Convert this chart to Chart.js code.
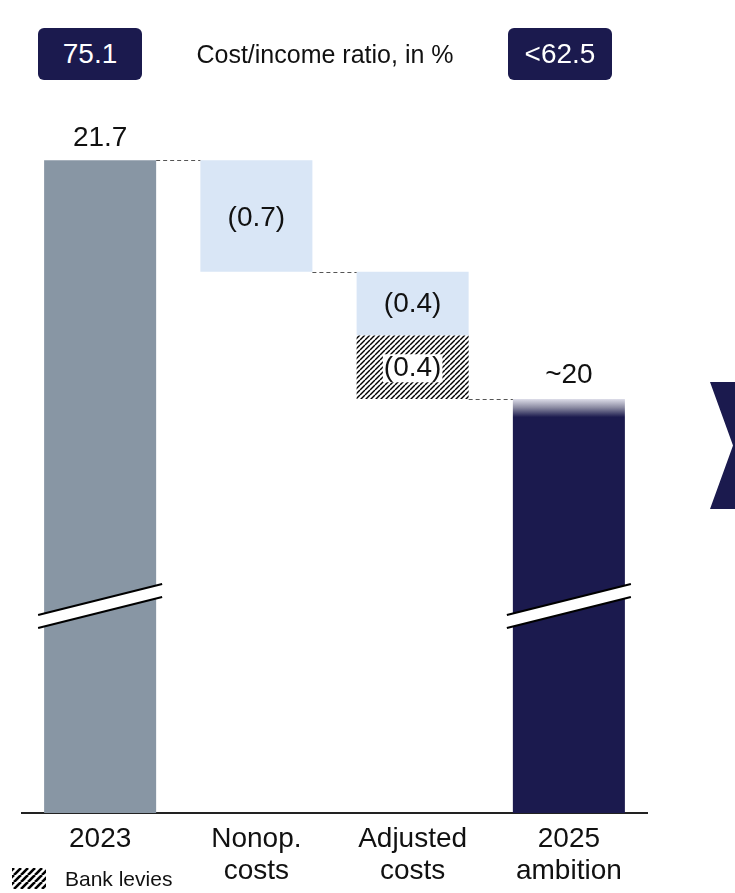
<!DOCTYPE html>
<html>
<head>
<meta charset="utf-8">
<script src="https://cdn.jsdelivr.net/npm/chart.js@4/dist/chart.umd.min.js"></script>
<style>
  html, body { margin: 0; padding: 0; background: #ffffff; }
  #wrap { position: relative; width: 735px; height: 893px; overflow: hidden; font-family: "Liberation Sans", Arial, sans-serif; }
  canvas { position: absolute; left: 0; top: 0; }
  .cir { position: absolute; top: 28px; width: 104px; height: 52px; background: #1b1a4e; border-radius: 6px;
         color: #ffffff; font-size: 28px; line-height: 52px; text-align: center; }
  #cirTitle { position: absolute; top: 40px; left: 170px; width: 310px; text-align: center; font-size: 25px; color: #111; }
  #chevron { position: absolute; left: 710px; top: 382px; width: 26px; height: 127px; background: #1b1a4e;
             clip-path: polygon(0 0, 100% 0, 100% 100%, 0 100%, 23px 50%); }
</style>
</head>
<body>
<div id="wrap">
  <canvas id="chart" width="735" height="893"></canvas>
  <div class="cir" id="cirFrom" style="left:38px"></div>
  <div id="cirTitle">Cost/income ratio, in %</div>
  <div class="cir" id="cirTo" style="left:508px"></div>
  <div id="chevron"></div>
</div>
<script>
// Cost base walk, EUR bn
const categories = ['2023', ['Nonop.', 'costs'], ['Adjusted', 'costs'], ['2025', 'ambition']];
const costs2023 = 21.7;
const nonopCosts = -0.7;
const adjustedCosts = -0.4;
const bankLevies = -0.4;
const ambition2025 = 20.2;
const cirValues = ['75.1', '<62.5'];
const legendLabel = 'Bank levies';

// broken value axis
const axisFloor = 17.6;
const axisCeil = 22.5;
const breakAt = 18.9;

const NAVY = '#1b1a4e';
const GREY = '#8896a4';
const LIGHT = '#d9e6f6';
const FONT = '"Liberation Sans", Arial, sans-serif';

document.getElementById('cirFrom').textContent = cirValues[0];
document.getElementById('cirTo').textContent = cirValues[1];

const r1 = (v) => Math.round(v * 10) / 10;
const afterNonop = r1(costs2023 + nonopCosts);
const afterAdjusted = r1(afterNonop + adjustedCosts);
const afterLevies = r1(afterAdjusted + bankLevies);

const mainRanges = [
  [axisFloor, costs2023],
  [afterNonop, costs2023],
  [afterAdjusted, afterNonop],
  [axisFloor, ambition2025]
];
const levyRanges = [null, null, [afterLevies, afterAdjusted], null];
const stepLevels = [costs2023, afterNonop, afterLevies];

function hatch(size, width) {
  const c = document.createElement('canvas');
  c.width = size; c.height = size;
  const g = c.getContext('2d');
  g.fillStyle = '#ffffff';
  g.fillRect(0, 0, size, size);
  g.strokeStyle = '#000000';
  g.lineWidth = width;
  for (let k = -1; k <= 1; k++) {
    g.beginPath();
    g.moveTo(k * size, size);
    g.lineTo(k * size + size, 0);
    g.stroke();
  }
  return g.createPattern(c, 'repeat');
}
const barHatch = hatch(5, 1.4);
const legendHatch = hatch(7, 2.6);

function mainColor(ctx) {
  const i = ctx.dataIndex;
  if (i === 0) return GREY;
  if (i === 1 || i === 2) return LIGHT;
  const chart = ctx.chart;
  if (!chart.chartArea) return NAVY;
  const top = chart.scales.y.getPixelForValue(ambition2025);
  const g = chart.ctx.createLinearGradient(0, top - 6, 0, top + 18);
  g.addColorStop(0, '#f1f1f9');
  g.addColorStop(0.25, '#dcdce8');
  g.addColorStop(0.6, '#8b8ba2');
  g.addColorStop(1, NAVY);
  return g;
}

const fmtStep = (v) => '(' + Math.abs(v).toFixed(1) + ')';

const decorations = {
  id: 'decorations',
  afterDatasetsDraw(chart) {
    const { ctx } = chart;
    const y = chart.scales.y;
    const bars = chart.getDatasetMeta(0).data;
    const levy = chart.getDatasetMeta(1).data[2];

    // dashed connectors between steps
    ctx.save();
    ctx.strokeStyle = '#555555';
    ctx.lineWidth = 1;
    ctx.setLineDash([4, 3]);
    for (let i = 0; i < 3; i++) {
      const a = bars[i], b = bars[i + 1];
      const py = Math.round(y.getPixelForValue(stepLevels[i])) + 0.5;
      ctx.beginPath();
      ctx.moveTo(a.x + a.width / 2, py);
      ctx.lineTo(b.x - b.width / 2, py);
      ctx.stroke();
    }
    ctx.restore();

    // axis break marks on the full bars
    const yb = y.getPixelForValue(breakAt);
    [0, 3].forEach((i) => {
      const b = bars[i];
      const x0 = b.x - b.width / 2 - 6, x1 = b.x + b.width / 2 + 6;
      const rise = (x1 - x0) * 0.25;
      const gap = 13;
      const yl = yb + rise / 2, yr = yb - rise / 2;
      ctx.save();
      ctx.fillStyle = '#ffffff';
      ctx.beginPath();
      ctx.moveTo(x0, yl - gap / 2);
      ctx.lineTo(x1, yr - gap / 2);
      ctx.lineTo(x1, yr + gap / 2);
      ctx.lineTo(x0, yl + gap / 2);
      ctx.closePath();
      ctx.fill();
      ctx.strokeStyle = '#000000';
      ctx.lineWidth = 2;
      ctx.beginPath();
      ctx.moveTo(x0, yl - gap / 2); ctx.lineTo(x1, yr - gap / 2);
      ctx.moveTo(x0, yl + gap / 2); ctx.lineTo(x1, yr + gap / 2);
      ctx.stroke();
      ctx.restore();
    });

    // value labels
    ctx.save();
    ctx.font = '28px ' + FONT;
    ctx.fillStyle = '#111111';
    ctx.textAlign = 'center';
    ctx.textBaseline = 'middle';
    ctx.fillText(costs2023.toFixed(1), bars[0].x, bars[0].y - 22);
    ctx.fillText(fmtStep(nonopCosts), bars[1].x, (bars[1].y + bars[1].base) / 2 + 2);
    ctx.fillText(fmtStep(adjustedCosts), bars[2].x, (bars[2].y + bars[2].base) / 2 + 1);
    const ly = (levy.y + levy.base) / 2 + 1;
    const lt = fmtStep(bankLevies);
    const w = ctx.measureText(lt).width;
    ctx.fillStyle = '#ffffff';
    ctx.fillRect(levy.x - w / 2 - 1, ly - 14, w + 2, 28);
    ctx.fillStyle = '#111111';
    ctx.fillText(lt, levy.x, ly);
    ctx.fillText('~' + Math.round(ambition2025), bars[3].x, bars[3].y - 24);
    ctx.restore();

    // legend
    ctx.save();
    ctx.fillStyle = legendHatch;
    ctx.fillRect(12, 868, 34, 21);
    ctx.fillStyle = '#111111';
    ctx.font = '21px ' + FONT;
    ctx.textAlign = 'left';
    ctx.textBaseline = 'middle';
    ctx.fillText(legendLabel, 65, 880);
    ctx.restore();
  }
};

new Chart(document.getElementById('chart'), {
  type: 'bar',
  data: {
    labels: categories,
    datasets: [
      {
        label: 'Costs',
        data: mainRanges,
        backgroundColor: mainColor,
        borderWidth: 0,
        grouped: false,
        categoryPercentage: 0.717,
        barPercentage: 1.0,
        order: 2
      },
      {
        label: legendLabel,
        data: levyRanges,
        backgroundColor: barHatch,
        borderWidth: 0,
        grouped: false,
        categoryPercentage: 0.717,
        barPercentage: 1.0,
        order: 1
      }
    ]
  },
  options: {
    responsive: false,
    devicePixelRatio: 1,
    animation: false,
    layout: { padding: { left: 22, right: 88, top: 33, bottom: 0 } },
    plugins: { legend: { display: false }, tooltip: { enabled: false } },
    scales: {
      x: {
        grid: { display: false },
        border: { display: true, color: '#222222', width: 2 },
        ticks: {
          color: '#111111',
          padding: 2,
          maxRotation: 0,
          autoSkip: false,
          font: { family: FONT, size: 28, lineHeight: 1.15 }
        },
        afterFit(scale) { scale.height = 80; }
      },
      y: {
        display: false,
        min: axisFloor,
        max: axisCeil
      }
    }
  },
  plugins: [decorations]
});
</script>
</body>
</html>
